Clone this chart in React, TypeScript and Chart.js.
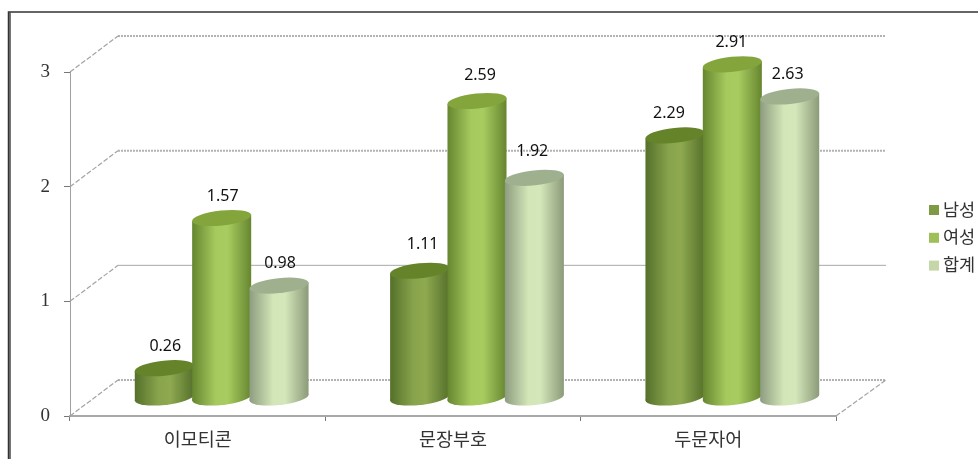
import { useEffect, useRef } from "react";
import { Chart, registerables } from "chart.js";

Chart.register(...registerables);

const categories = ["이모티콘", "문장부호", "두문자어"];
const seriesNames = ["남성", "여성", "합계"];
const maleValues = [0.26, 1.11, 2.29];
const femaleValues = [1.57, 2.59, 2.91];
const totalValues = [0.98, 1.92, 2.63];
const valueTicks = [0, 1, 2, 3];

const legendColors = ["#7f9a44", "#9fbf58", "#c5d6a8"];
const bodyStops = [
  ["#54702a", "#88a44c", "#8ea94f", "#55702b"],
  ["#66852f", "#a6ca5e", "#a8cc60", "#66852f"],
  ["#8d9c80", "#d2e6b7", "#d4e7ba", "#8b9a78"],
];
const capColors = ["#658429", "#84a53c", "#9fb08f"];
const labelLift = [22, 26, 22];
const labelShift = [
  [2, 2, 2],
  [4, 4, -1],
  [-5, 0, -1],
];

const DEPTH_X = 48;
const DEPTH_Y = -36;
const TILT = (-6 * Math.PI) / 180;
const CAP_RY = 7.5;
const KOREAN = '"Noto Sans CJK KR", sans-serif';

const decor = {
  id: "decor",
  beforeDatasetsDraw(chart: any) {
    const { ctx, chartArea, scales } = chart;
    const { left, right, bottom } = chartArea;
    ctx.save();
    // outer frame: left and top edges
    ctx.strokeStyle = "#777";
    ctx.lineWidth = 3;
    ctx.beginPath();
    ctx.moveTo(9.5, 459);
    ctx.lineTo(9.5, 12.5);
    ctx.stroke();
    ctx.strokeStyle = "#333";
    ctx.lineWidth = 1.5;
    ctx.beginPath();
    ctx.moveTo(8.5, 459);
    ctx.lineTo(8.5, 12);
    ctx.lineTo(978, 12);
    ctx.stroke();

    valueTicks.forEach((tick) => {
      const y = scales.y.getPixelForValue(tick);
      ctx.strokeStyle = "#a3a3a3";
      ctx.lineWidth = 1.2;
      ctx.setLineDash([5, 2]);
      ctx.beginPath();
      ctx.moveTo(left, y);
      ctx.lineTo(left + DEPTH_X, y + DEPTH_Y);
      ctx.stroke();
      const solid = tick === 1;
      ctx.strokeStyle = solid ? "#a8a8a8" : "#b2b2b2";
      ctx.lineWidth = solid ? 1 : 2;
      ctx.setLineDash(solid ? [] : [2, 1]);
      ctx.beginPath();
      ctx.moveTo(left + DEPTH_X, y + DEPTH_Y);
      ctx.lineTo(right + DEPTH_X + 2, y + DEPTH_Y);
      ctx.stroke();
    });
    ctx.strokeStyle = "#a3a3a3";
    ctx.lineWidth = 1.2;
    ctx.setLineDash([5, 2]);
    ctx.beginPath();
    ctx.moveTo(right, bottom);
    ctx.lineTo(right + DEPTH_X + 2, bottom + DEPTH_Y);
    ctx.stroke();
    ctx.restore();
  },
  // the cylinders below replace the flat bars
  beforeDatasetDraw() {
    return false;
  },
  afterDatasetsDraw(chart: any) {
    const { ctx } = chart;
    ctx.save();
    chart.data.datasets.forEach((_: any, d: number) => {
      chart.getDatasetMeta(d).data.forEach((bar: any) => {
        const cx = bar.x + DEPTH_X / 2;
        const rx = bar.width / 2 + 1;
        const topY = bar.y + DEPTH_Y / 2;
        const baseY = bar.base + DEPTH_Y / 2;
        const dx = rx * Math.cos(TILT);
        const dy = rx * Math.sin(TILT);
        const grad = ctx.createLinearGradient(cx - rx, 0, cx + rx, 0);
        [0, 0.4, 0.6, 1].forEach((s, i) => grad.addColorStop(s, bodyStops[d][i]));
        ctx.fillStyle = grad;
        ctx.beginPath();
        ctx.ellipse(cx, baseY, rx, CAP_RY, TILT, 0, Math.PI * 2);
        ctx.fill();
        ctx.beginPath();
        ctx.moveTo(cx - dx, topY - dy);
        ctx.lineTo(cx + dx, topY + dy);
        ctx.lineTo(cx + dx, baseY + dy);
        ctx.lineTo(cx - dx, baseY - dy);
        ctx.closePath();
        ctx.fill();
        ctx.fillStyle = capColors[d];
        ctx.beginPath();
        ctx.ellipse(cx, topY, rx, CAP_RY, TILT, 0, Math.PI * 2);
        ctx.fill();
      });
    });

    // value labels above each cylinder
    ctx.font = '16px "Noto Sans", sans-serif';
    ctx.fillStyle = "#111";
    ctx.textAlign = "center";
    ctx.textBaseline = "middle";
    chart.data.datasets.forEach((ds: any, d: number) => {
      chart.getDatasetMeta(d).data.forEach((bar: any, c: number) => {
        ctx.fillText(
          ds.data[c].toFixed(2),
          bar.x + DEPTH_X / 2 + labelShift[c][d] - 1,
          bar.y + DEPTH_Y / 2 - labelLift[c]
        );
      });
    });

    // legend at the right edge
    ctx.font = `17.5px ${KOREAN}`;
    ctx.textAlign = "left";
    seriesNames.forEach((name, i) => {
      const y = 210 + i * 27.8;
      ctx.fillStyle = legendColors[i];
      ctx.fillRect(929, y - 5, 10, 10);
      ctx.fillStyle = "#333";
      ctx.fillText(name, 943, y - 1);
    });
    ctx.restore();
  },
};

export default function App() {
  const ref = useRef<HTMLCanvasElement>(null);
  useEffect(() => {
    const chart = new Chart(ref.current!, {
      type: "bar",
      data: {
        labels: categories,
        datasets: [maleValues, femaleValues, totalValues].map((data, i) => ({
          label: seriesNames[i],
          data,
          backgroundColor: legendColors[i],
          categoryPercentage: 0.674,
          barPercentage: 1,
        })),
      },
      options: {
        animation: false,
        responsive: false,
        layout: { padding: { left: 0, top: 72, right: 142, bottom: 0 } },
        plugins: { legend: { display: false }, tooltip: { enabled: false } },
        scales: {
          x: {
            afterFit: (s: any) => {
              s.height = 43;
            },
            border: { color: "#a8a8a8", width: 2, dash: [2, 1] },
            grid: { drawOnChartArea: false, tickLength: 5, color: "#777" },
            ticks: { font: { family: KOREAN, size: 18.5 }, color: "#333", padding: 7 },
          },
          y: {
            min: 0,
            max: 3,
            afterFit: (s: any) => {
              s.width = 70;
            },
            border: { color: "#a0a0a0", width: 1 },
            grid: { drawOnChartArea: false, tickLength: 6, color: "#777" },
            ticks: {
              stepSize: 1,
              padding: 14,
              color: "#333",
              font: { family: '"Liberation Serif", serif', size: 19 },
            },
          },
        },
      },
      plugins: [decor],
    });
    return () => chart.destroy();
  }, []);
  return (
    <div style={{ position: "absolute", left: 0, top: 0, width: 978, height: 459, background: "#fff" }}>
      <canvas ref={ref} width={978} height={459} style={{ display: "block" }} />
    </div>
  );
}
